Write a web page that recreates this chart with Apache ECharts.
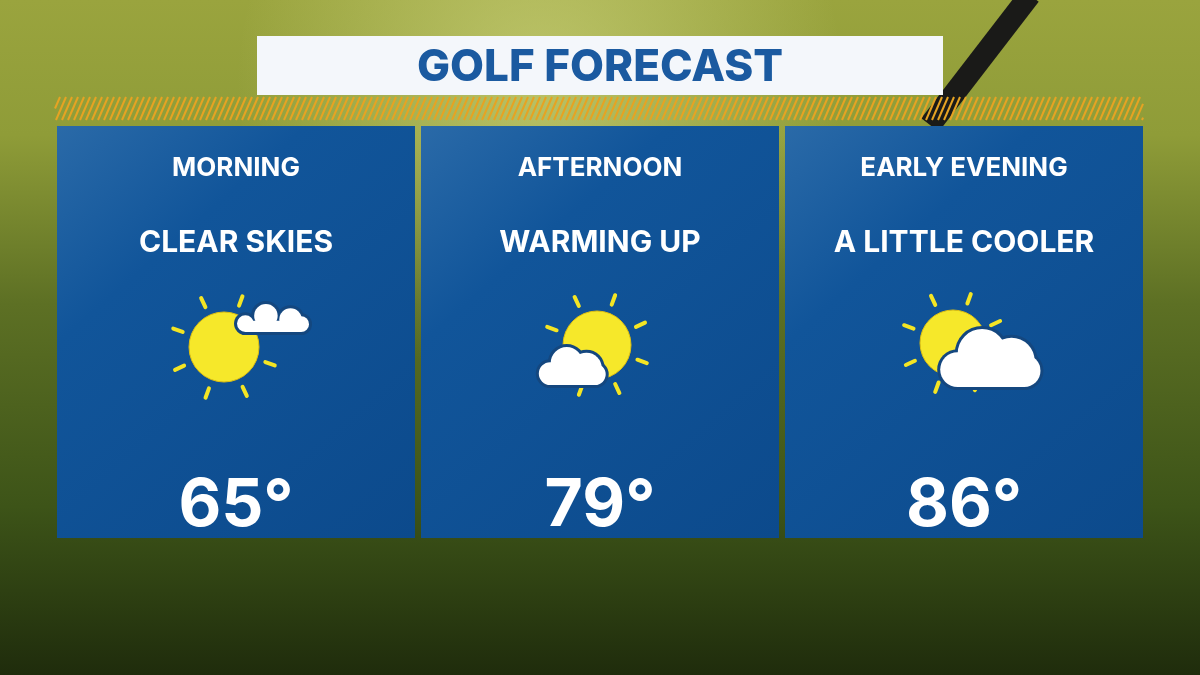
<!DOCTYPE html>
<html lang="en">
<head>
<meta charset="UTF-8">
<title>Golf Forecast</title>
<style>html,body{margin:0;padding:0;background:#000;}#chart{width:1200px;height:675px;}</style>
</head>
<body>
<div id="chart"></div>
<script src="https://cdn.jsdelivr.net/npm/echarts@6/dist/echarts.min.js"></script>
<script>
var title = 'GOLF FORECAST';
var periods = ['MORNING', 'AFTERNOON', 'EARLY EVENING'];
var conditions = ['CLEAR SKIES', 'WARMING UP', 'A LITTLE COOLER'];
var temps = [65, 79, 86];
// icon kind per panel
var icons = ['sunCloudRight', 'sunCloudLeft', 'sunCloudBig'];

var panelX = [57, 421, 785];
var panelW = 358, panelTop = 126, panelH = 412;
var FONT = '"Inter", "Open Sans", sans-serif';

function sun(cx, cy, r) {
    var els = [];
    for (var i = 0; i < 8; i++) {
        var a = (i * 45 + 20) * Math.PI / 180;
        els.push({
            type: 'line',
            shape: {x1: cx + Math.cos(a) * (r + 9), y1: cy + Math.sin(a) * (r + 9),
                    x2: cx + Math.cos(a) * (r + 19), y2: cy + Math.sin(a) * (r + 19)},
            style: {stroke: '#f4e524', lineWidth: 4, lineCap: 'round'}
        });
    }
    els.push({type: 'circle', shape: {cx: cx, cy: cy, r: r},
        style: {fill: '#f6e82a', stroke: '#e0c010', lineWidth: 1}});
    return els;
}
// cloud made of circles on a flat base; outline layer then fill layer
function cloud(x, y, w, h) {
    var parts = [
        {c: [0.2, 0.7, 0.3]}, {c: [0.45, 0.42, 0.42]}, {c: [0.75, 0.55, 0.4]}, {c: [0.88, 0.72, 0.28]}
    ];
    var els = [];
    [['#14477f', 3], ['#ffffff', 0]].forEach(function (layer) {
        parts.forEach(function (p) {
            els.push({type: 'circle', shape: {cx: x + p.c[0] * w, cy: y + p.c[1] * h, r: p.c[2] * h + layer[1]},
                style: {fill: layer[0]}});
        });
        els.push({type: 'rect', shape: {x: x + 0.2 * w - layer[1], y: y + 0.6 * h, width: 0.68 * w + 2 * layer[1], height: 0.4 * h + layer[1]},
            style: {fill: layer[0]}});
    });
    return els;
}

var g = [];
g.push({type: 'rect', shape: {x: 0, y: 0, width: 1200, height: 675}, style: {
    fill: new echarts.graphic.LinearGradient(0, 0, 0, 1, [
        {offset: 0, color: '#9aa43e'}, {offset: 0.2, color: '#8f9c38'},
        {offset: 0.45, color: '#5d7024'}, {offset: 0.75, color: '#3d5418'}, {offset: 1, color: '#1f2c0c'}])}});
g.push({type: 'rect', shape: {x: 0, y: 0, width: 1200, height: 675}, style: {
    fill: new echarts.graphic.RadialGradient(0.45, 0.12, 0.45, [
        {offset: 0, color: 'rgba(225,230,150,0.5)'}, {offset: 1, color: 'rgba(225,230,150,0)'}])}});
g.push({type: 'line', shape: {x1: 1030, y1: -5, x2: 930, y2: 125}, style: {stroke: '#1a1a18', lineWidth: 22}});
for (var hx = 50; hx < 1143; hx += 6) {
    var xa = Math.max(hx, 55), xb = Math.min(hx + 10, 1143);
    g.push({type: 'line', shape: {x1: xa, y1: 120 - (xa - hx) * 2.3, x2: xb, y2: 120 - (xb - hx) * 2.3},
        style: {stroke: '#e6a323', lineWidth: 2}});
}
g.push({type: 'rect', shape: {x: 257, y: 36, width: 686, height: 59}, style: {fill: '#f4f7fb'}});
g.push({type: 'text', x: 600, y: 68, style: {text: title, fill: '#1b5aa0', font: '800 44px ' + FONT, align: 'center', verticalAlign: 'middle'}});

for (var i = 0; i < 3; i++) {
    var x0 = panelX[i], cx = x0 + panelW / 2;
    g.push({type: 'rect', shape: {x: x0, y: panelTop, width: panelW, height: panelH}, style: {
        fill: new echarts.graphic.LinearGradient(0, 0, 1, 1, [
            {offset: 0, color: '#2a6aa8'}, {offset: 0.3, color: '#11559a'}, {offset: 1, color: '#0c4a8c'}])}});
    g.push({type: 'text', x: cx, y: 168, style: {text: periods[i], fill: '#fff', font: 'bold 26px ' + FONT, align: 'center', verticalAlign: 'middle'}});
    g.push({type: 'text', x: cx, y: 243, style: {text: conditions[i], fill: '#fff', font: 'bold 30px ' + FONT, align: 'center', verticalAlign: 'middle'}});
    g.push({type: 'text', x: cx, y: 506, style: {text: temps[i] + '°', fill: '#fff', font: 'bold 66px ' + FONT, align: 'center', verticalAlign: 'middle'}});
    var els;
    if (icons[i] === 'sunCloudRight') {
        els = sun(cx - 12, 347, 35).concat(cloud(cx - 7, 304, 82, 28));
    } else if (icons[i] === 'sunCloudLeft') {
        els = sun(cx - 3, 345, 34).concat(cloud(cx - 63, 347, 66, 38));
    } else {
        els = sun(cx - 11, 343, 33).concat(cloud(cx - 26, 329, 98, 58));
    }
    g = g.concat(els);
}

var chart = echarts.init(document.getElementById('chart'));
chart.setOption({animation: false, graphic: {elements: g}});
</script>
</body>
</html>
